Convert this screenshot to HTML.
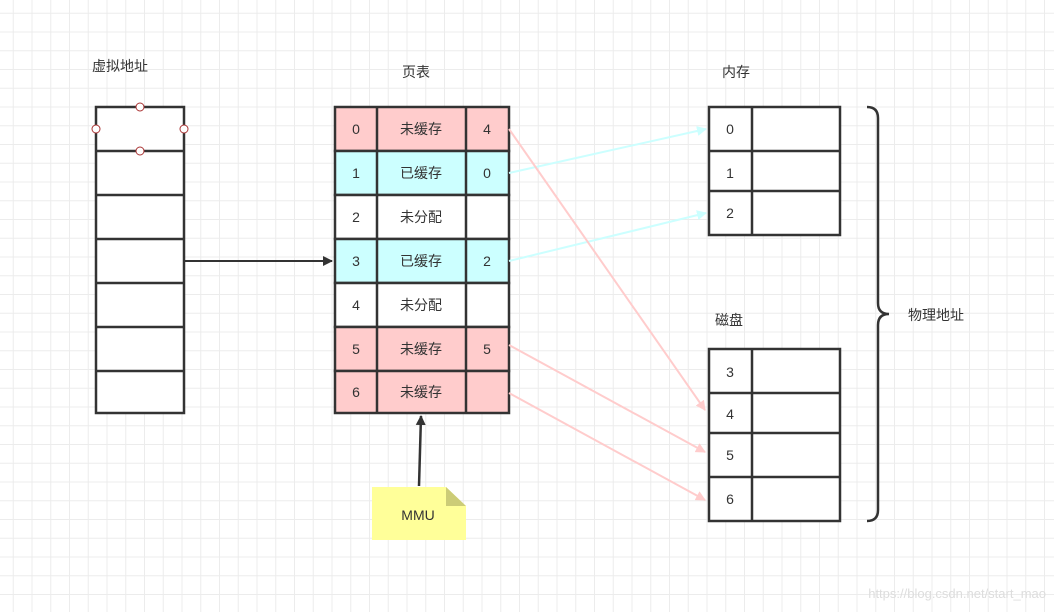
<!DOCTYPE html>
<html><head><meta charset="utf-8"><style>
body{margin:0;width:1054px;height:612px;overflow:hidden;background:#fff;
background-image:linear-gradient(#ececec 1px,transparent 1px),linear-gradient(90deg,#ececec 1px,transparent 1px);
background-size:18.75px 18.75px;background-position:-6px -6px;}
svg{position:absolute;left:0;top:0}
text{font-family:"Liberation Sans","Noto Sans CJK SC",sans-serif;font-size:14px;fill:#333}
</style></head><body>
<svg width="1054" height="612" viewBox="0 0 1054 612">
<defs>
<marker id="ab" markerWidth="10" markerHeight="10" refX="9" refY="5" orient="auto" markerUnits="userSpaceOnUse"><path d="M0,0 L10,5 L0,10 z" fill="#333"/></marker>
<marker id="ac" markerWidth="10" markerHeight="10" refX="9" refY="5" orient="auto" markerUnits="userSpaceOnUse"><path d="M0,0 L10,5 L0,10 z" fill="#ccffff"/></marker>
<marker id="ap" markerWidth="10" markerHeight="10" refX="9" refY="5" orient="auto" markerUnits="userSpaceOnUse"><path d="M0,0 L10,5 L0,10 z" fill="#ffcccc"/></marker>
</defs>
<text x="92" y="71">虚拟地址</text>
<text x="402" y="77">页表</text>
<text x="722" y="77">内存</text>
<text x="715" y="325">磁盘</text>
<text x="908" y="320">物理地址</text>
<!-- virtual -->
<g stroke="#333" stroke-width="2.5" fill="#fff">
<rect x="96" y="107" width="88" height="306"/>
<line x1="96" y1="151" x2="184" y2="151"/><line x1="96" y1="195" x2="184" y2="195"/>
<line x1="96" y1="239" x2="184" y2="239"/><line x1="96" y1="283" x2="184" y2="283"/>
<line x1="96" y1="327" x2="184" y2="327"/><line x1="96" y1="371" x2="184" y2="371"/>
</g>
<g fill="#fff" stroke="#a33" stroke-width="1"><circle cx="140" cy="107" r="4"/><circle cx="96" cy="129" r="4"/><circle cx="184" cy="129" r="4"/><circle cx="140" cy="151" r="4"/></g>
<!-- page table -->
<g stroke="#333" stroke-width="2.5">
<rect x="335" y="107" width="174" height="44" fill="#ffcccc"/>
<rect x="335" y="151" width="174" height="44" fill="#ccffff"/>
<rect x="335" y="195" width="174" height="44" fill="#fff"/>
<rect x="335" y="239" width="174" height="44" fill="#ccffff"/>
<rect x="335" y="283" width="174" height="44" fill="#fff"/>
<rect x="335" y="327" width="174" height="44" fill="#ffcccc"/>
<rect x="335" y="371" width="174" height="42" fill="#ffcccc"/>
<line x1="377" y1="107" x2="377" y2="413"/><line x1="466" y1="107" x2="466" y2="413"/>
</g>
<g text-anchor="middle">
<text x="356" y="134">0</text><text x="421" y="134">未缓存</text><text x="487" y="134">4</text>
<text x="356" y="178">1</text><text x="421" y="178">已缓存</text><text x="487" y="178">0</text>
<text x="356" y="222">2</text><text x="421" y="222">未分配</text>
<text x="356" y="266">3</text><text x="421" y="266">已缓存</text><text x="487" y="266">2</text>
<text x="356" y="310">4</text><text x="421" y="310">未分配</text>
<text x="356" y="354">5</text><text x="421" y="354">未缓存</text><text x="487" y="354">5</text>
<text x="356" y="397">6</text><text x="421" y="397">未缓存</text>
</g>
<!-- memory -->
<g stroke="#333" stroke-width="2.5" fill="#fff">
<rect x="709" y="107" width="131" height="128"/>
<line x1="752" y1="107" x2="752" y2="235"/><line x1="709" y1="151" x2="840" y2="151"/><line x1="709" y1="191" x2="840" y2="191"/>
<rect x="709" y="349" width="131" height="172"/>
<line x1="752" y1="349" x2="752" y2="521"/><line x1="709" y1="393" x2="840" y2="393"/><line x1="709" y1="433" x2="840" y2="433"/><line x1="709" y1="477" x2="840" y2="477"/>
</g>
<g text-anchor="middle">
<text x="730" y="134">0</text><text x="730" y="178">1</text><text x="730" y="218">2</text>
<text x="730" y="377">3</text><text x="730" y="419">4</text><text x="730" y="460">5</text><text x="730" y="504">6</text>
</g>
<!-- brace -->
<path d="M867,107 Q878,107 878,118 L878,303 Q878,314 889,314 Q878,314 878,325 L878,510 Q878,521 867,521" fill="none" stroke="#333" stroke-width="2.5"/>
<!-- arrows -->
<line x1="185" y1="261" x2="332" y2="261" stroke="#333" stroke-width="2" marker-end="url(#ab)"/>
<line x1="509" y1="173" x2="706" y2="129" stroke="#ccffff" stroke-width="2" marker-end="url(#ac)"/>
<line x1="509" y1="261" x2="706" y2="213" stroke="#ccffff" stroke-width="2" marker-end="url(#ac)"/>
<line x1="509" y1="129" x2="705" y2="410" stroke="#ffcccc" stroke-width="2" marker-end="url(#ap)"/>
<line x1="509" y1="345" x2="705" y2="452" stroke="#ffcccc" stroke-width="2" marker-end="url(#ap)"/>
<line x1="509" y1="393" x2="705" y2="500" stroke="#ffcccc" stroke-width="2" marker-end="url(#ap)"/>
<line x1="419" y1="486" x2="421" y2="416" stroke="#333" stroke-width="2.5" marker-end="url(#ab)"/>
<!-- MMU -->
<path d="M372,487 L446,487 L466,506 L466,540 L372,540 z" fill="#ffff99"/>
<path d="M446,487 L466,506 L446,506 z" fill="#cccc77"/>
<text x="418" y="520" text-anchor="middle">MMU</text>
<text x="1046" y="598" text-anchor="end" style="font-size:13px;fill:#ddd">https://blog.csdn.net/start_mao</text>
</svg>
</body></html>
